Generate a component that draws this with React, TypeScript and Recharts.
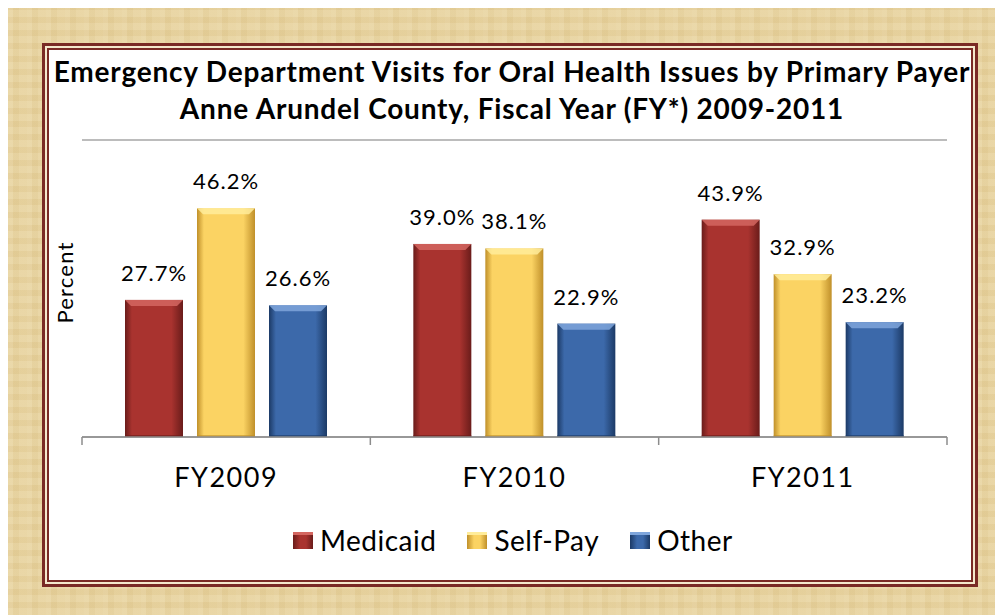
import { BarChart, Bar, XAxis, YAxis, CartesianGrid, LabelList } from 'recharts'

const years = ['FY2009', 'FY2010', 'FY2011']
const medicaid = [27.7, 39.0, 43.9]
const selfPay = [46.2, 38.1, 32.9]
const other = [26.6, 22.9, 23.2]
const yTicks = [0, 20, 40, 60]

const titleLines = [
  'Emergency Department Visits for Oral Health Issues by Primary Payer',
  'Anne Arundel County, Fiscal Year (FY*) 2009-2011',
]

const series = [
  { key: 'medicaid', name: 'Medicaid', base: '#a9332f', dark: '#6a1c1a', light: '#d46660' },
  { key: 'selfPay', name: 'Self-Pay', base: '#fbd363', dark: '#c0902a', light: '#ffec9a' },
  { key: 'other', name: 'Other', base: '#3c69aa', dark: '#1c3a66', light: '#7fa6dc' },
]

const data = years.map((year, i) => ({
  year,
  medicaid: medicaid[i],
  selfPay: selfPay[i],
  other: other[i],
}))

const FONT = 'Lato, "Open Sans", sans-serif'
const BAND = 865 / 3

// bevelled bar similar to the Office 3D preset
const BevelBar = (props: any) => {
  const { x, y, width, height, seriesKey } = props
  const s = series.find((d) => d.key === seriesKey)!
  const b = 6
  return (
    <g>
      <rect x={x} y={y} width={width} height={height} fill={`url(#grad-${seriesKey})`} />
      <polygon
        points={`${x},${y} ${x + width},${y} ${x + width - b},${y + b} ${x + b},${y + b}`}
        fill={s.light}
        opacity={0.85}
      />
      <rect x={x} y={y + height - 2} width={width} height={2} fill={s.dark} opacity={0.6} />
    </g>
  )
}

const YearTick = (props: any) => {
  const { x, y, payload, index } = props
  const top = y - 8
  return (
    <g>
      <line x1={x - BAND / 2} x2={x - BAND / 2} y1={top} y2={top + 8} stroke="#8c8c8c" strokeWidth={1.5} />
      {index === years.length - 1 && (
        <line x1={x + BAND / 2} x2={x + BAND / 2} y1={top} y2={top + 8} stroke="#8c8c8c" strokeWidth={1.5} />
      )}
      <text x={x} y={top + 50} textAnchor="middle" fontSize={27} fontFamily={FONT} fill="#000" letterSpacing={1.5}>
        {payload.value}
      </text>
    </g>
  )
}

const ChartLegend = () => (
  <div
    style={{
      position: 'absolute',
      left: 285,
      top: 515,
      display: 'flex',
      alignItems: 'center',
      fontFamily: FONT,
      fontSize: 28,
    }}
  >
    {series.map((s) => (
      <div key={s.key} style={{ display: 'flex', alignItems: 'center', marginRight: 31 }}>
        <span
          style={{
            display: 'inline-block',
            width: 20,
            height: 17,
            marginRight: 7,
            background: `linear-gradient(90deg, ${s.dark}, ${s.base} 35%, ${s.base} 65%, ${s.dark})`,
            boxShadow: `inset 0 3px 0 ${s.light}`,
          }}
        />
        <span style={{ color: '#000', letterSpacing: 0.5 }}>{s.name}</span>
      </div>
    ))}
  </div>
)

export default function App() {
  return (
    <div
      style={{
        position: 'relative',
        width: 995,
        height: 607,
        background:
          'repeating-linear-gradient(90deg, rgba(255,255,255,0.07) 0 5px, rgba(160,120,50,0.04) 5px 11px, rgba(255,255,255,0.03) 11px 19px), repeating-linear-gradient(0deg, rgba(255,255,255,0.06) 0 7px, rgba(160,120,50,0.05) 7px 13px), #e8d39e',
      }}
    >
      <div
        style={{
          position: 'absolute',
          left: 34,
          top: 35,
          width: 936,
          height: 544,
          boxSizing: 'border-box',
          border: '3px solid #7a2a25',
          padding: 2,
          background: '#f4e8cc',
        }}
      >
        <div style={{ width: '100%', height: '100%', boxSizing: 'border-box', border: '2px solid #7a2a25', background: '#fff' }} />
      </div>
      <div
        style={{
          position: 'absolute',
          left: 36,
          top: 45,
          width: 936,
          textAlign: 'center',
          fontFamily: FONT,
          fontWeight: 700,
          fontSize: 28,
          letterSpacing: 0.8,
          lineHeight: '37px',
          color: '#000',
          whiteSpace: 'nowrap',
        }}
      >
        {titleLines.map((t) => (
          <div key={t}>{t}</div>
        ))}
      </div>
      <div style={{ position: 'absolute', left: 0, top: 0 }}>
        <BarChart width={995} height={607} data={data} margin={{ top: 132, right: 56, bottom: 118, left: 40 }} barSize={58} barGap={14}>
          <defs>
            {series.map((s) => (
              <linearGradient key={s.key} id={`grad-${s.key}`} x1="0" y1="0" x2="1" y2="0">
                <stop offset="0" stopColor={s.dark} />
                <stop offset="0.12" stopColor={s.base} />
                <stop offset="0.8" stopColor={s.base} />
                <stop offset="1" stopColor={s.dark} />
              </linearGradient>
            ))}
          </defs>
          <CartesianGrid vertical={false} stroke="#a6a6a6" strokeWidth={1.5} />
          <YAxis
            width={34}
            domain={[0, 60]}
            ticks={yTicks}
            tick={false}
            tickLine={false}
            axisLine={false}
            label={{ value: 'Percent', angle: -90, position: 'center', fontSize: 22, letterSpacing: 1.2, fontFamily: FONT, fill: '#000', dy: -6 }}
          />
          <XAxis dataKey="year" height={60} axisLine={{ stroke: '#8c8c8c', strokeWidth: 1.5 }} tickLine={false} tick={<YearTick />} interval={0} />
          {series.map((s) => (
            <Bar key={s.key} dataKey={s.key} name={s.name} isAnimationActive={false} shape={<BevelBar seriesKey={s.key} />}>
              <LabelList
                dataKey={s.key}
                position="top"
                offset={19}
                formatter={(v: any) => `${Number(v).toFixed(1)}%`}
                fontSize={22}
                letterSpacing={1}
                fontFamily={FONT}
                fill="#000"
              />
            </Bar>
          ))}
        </BarChart>
      </div>
      <ChartLegend />
    </div>
  )
}
